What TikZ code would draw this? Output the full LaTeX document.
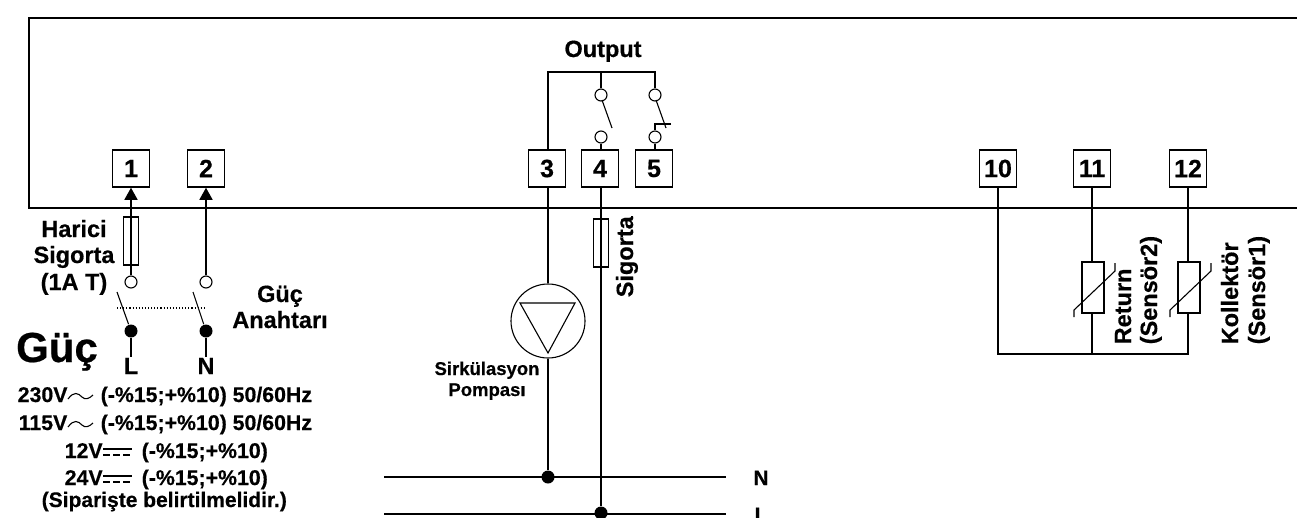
\documentclass[tikz,border=0pt]{standalone}
\usepackage{fontspec}
\setmainfont{Liberation Sans}[BoldFeatures={FakeBold=0.5}]
\usetikzlibrary{arrows.meta}

\begin{document}
\begin{tikzpicture}[x=1pt, y=-1pt, line width=1.5pt,
		lbl/.style={anchor=base, inner sep=0pt, font=\bfseries\fontsize{23.5}{27}\selectfont},
		spec/.style={anchor=base west, inner sep=0pt, font=\bfseries\fontsize{21.3}{25}\selectfont},
		small/.style={anchor=base, inner sep=0pt, font=\bfseries\fontsize{18.5}{22}\selectfont},
		vlbl/.style={lbl, anchor=base west, rotate=90},
		terminal/.style={draw, minimum width=37pt, minimum height=37pt, inner sep=0pt, font=\bfseries\fontsize{25}{27}\selectfont},
		fuse/.style={draw, line width=1.1pt, minimum width=15pt, minimum height=48pt, inner sep=0pt},
		thermistor/.style={draw, line width=1.1pt, minimum width=22pt, minimum height=51pt, inner sep=0pt},
		contact/.style={draw, circle, line width=1.1pt, minimum size=12pt, inner sep=0pt},
		junction/.style={fill, circle, minimum size=13pt, inner sep=0pt},
		thinwire/.style={line width=1.1pt}]
	\clip (0,0) rectangle (1297,517);

	% Housing
	\draw (1297,18) -- (29,18) -- (29,208) -- (1297,208);

	% Terminals
	\foreach \name/\x in {1/131,2/206,3/547,4/600,5/654,10/998,11/1092,12/1188}
	\node[terminal] (t\name) at (\x,168.5) {\name};

	% Supply on the left
	\node[fuse] (fuseA) at (131,241) {};
	\node[contact] (cL) at (131,282) {};
	\node[contact] (cN) at (206,282) {};
	\node[junction] (dL) at (131,331) {};
	\node[junction] (dN) at (206,331) {};
	\coordinate (swL) at (117,292);
	\coordinate (swN) at (193,292);
	\coordinate (gang) at (117,308);
	\coordinate (gangEnd) at (204,308);
	\node[lbl] (lL) at (131,374) {L};
	\node[lbl] (lN) at (206,374) {N};

	\draw[-{Triangle[length=12pt,width=13pt]}] (cL) -- (t1.south);
	\draw[-{Triangle[length=12pt,width=13pt]}] (cN) -- (t2.south);
	\draw[thinwire] (swL) -- (dL);
	\draw[thinwire] (swN) -- (dN);
	\draw[thinwire] (dL) -- (lL.north);
	\draw[thinwire] (dN) -- (lN.north);
	\draw[thinwire, dotted] (gang) -- (gangEnd);

	% Labels of the supply
	\node[lbl] (harici) at (74,237) {Harici};
	\node[lbl] (sigortaA) at (74,263) {Sigorta};
	\node[lbl] (amper) at (74,290) {(1A T)};
	\node[lbl] (gucA) at (280,302) {Güç};
	\node[lbl] (anahtar) at (280,328) {Anahtarı};
	\node[lbl, font=\bfseries\fontsize{42}{46}\selectfont] (guc) at (57,362) {Güç};

	% Voltage list
	\node[spec] (v230) at (17,402) {230V};
	\node[spec] (r230) at (100,402) {(-\%15;+\%10) 50/60Hz};
	\node[spec] (v115) at (18,430) {115V};
	\node[spec] (r115) at (100,430) {(-\%15;+\%10) 50/60Hz};
	\node[spec] (v12) at (64,458) {12V};
	\node[spec] (r12) at (141,458) {(-\%15;+\%10)};
	\node[spec] (v24) at (64,485) {24V};
	\node[spec] (r24) at (141,485) {(-\%15;+\%10)};
	\node[spec, font=\bfseries\fontsize{21}{25}\selectfont] (order) at (41,507) {(Siparişte belirtilmelidir.)};

	% AC and DC signs
	\foreach \y in {399,427}
	\draw[thinwire] (68,\y) .. controls (74,\y-8) and (78,\y-6) .. (82,\y-2) .. controls (85,\y+1) and (89,\y) .. (93,\y-4);
	\foreach \y in {449,476} {
		\draw[thinwire] (103,\y) -- (132,\y);
		\draw[thinwire, dash pattern=on 7pt off 3pt] (103,\y+6) -- (132,\y+6);
	}

	% Output contacts
	\coordinate (busL) at (548,72);
	\coordinate (busM) at (601,72);
	\coordinate (busR) at (655,72);
	\node[lbl] (output) at (603,57) {Output};
	\node[contact] (c4a) at (601,95) {};
	\node[contact] (c4b) at (601,137) {};
	\node[contact] (c5a) at (655,95) {};
	\node[contact] (c5b) at (655,137) {};
	\coordinate (sw4a) at (602,100);
	\coordinate (sw4b) at (612,128);
	\coordinate (sw5a) at (656,100);
	\coordinate (sw5b) at (666,128);
	\coordinate (stopA) at (671,124);
	\coordinate (stopB) at (655,124);

	\draw (t3.north -| busL) -- (busL) -- (busR) -- (c5a);
	\draw[thinwire] (busM) -- (c4a);
	\draw[thinwire] (c4b) -- (t4.north -| c4b);
	\draw[thinwire] (c5b) -- (t5.north -| c5b);
	\draw[thinwire] (sw4a) -- (sw4b);
	\draw[thinwire] (sw5a) -- (sw5b);
	\draw[thinwire] (stopA) -- (stopB) -- (c5b);

	% Pump and mains
	\node[draw, circle, thinwire, minimum size=74pt, inner sep=0pt] (pump) at (548,321) {};
	\coordinate (triA) at (520,303);
	\coordinate (triB) at (575,303);
	\coordinate (triC) at (548,353);
	\draw[thinwire, line join=miter] (triA) -- (triB) -- (triC) -- cycle;
	\node[fuse] (fuseB) at (601,243) {};
	\node[junction] (dNrail) at (548,477) {};
	\node[junction] (dLrail) at (601,513) {};
	\coordinate (railNa) at (384,477);
	\coordinate (railNb) at (726,477);
	\coordinate (railLa) at (384,514);
	\coordinate (railLb) at (726,514);

	\draw (t3.south -| pump) -- (pump.north);
	\draw (pump.south) -- (dNrail);
	\draw (t4.south -| dLrail) -- (dLrail);
	\draw (railNa) -- (railNb);
	\draw (railLa) -- (railLb);

	\node[vlbl] (sigortaB) at (633,298) {Sigorta};
	\node[small] (sirk) at (487,375) {Sirkülasyon};
	\node[small] (pompa) at (487,396) {Pompası};
	\node[lbl, font=\bfseries\fontsize{21}{25}\selectfont] (railN) at (761,485) {N};
	\node[lbl, font=\bfseries\fontsize{21}{25}\selectfont] (railL) at (761,522) {L};

	% Sensors
	\node[thermistor] (rs2) at (1093,287.5) {};
	\node[thermistor] (rs1) at (1189,287.5) {};
	\coordinate (bot10) at (998,354);
	\coordinate (bot11) at (1092,354);
	\coordinate (bot12) at (1188,354);

	\draw (t10.south) -- (bot10) -- (bot12) -- (rs1.south -| bot12);
	\draw (rs1.north -| bot12) -- (t12.south);
	\draw (t11.south) -- (rs2.north -| bot11);
	\draw (rs2.south -| bot11) -- (bot11);

	% Slanted strokes of the sensors
	\foreach \x in {1074,1170}
	\draw[thinwire] (\x,317) -- (\x,310) -- (\x+41,271) -- (\x+41,263);

	\node[vlbl] (lret) at (1131,345) {Return};
	\node[vlbl] (lsen2) at (1157,345) {(Sensör2)};
	\node[vlbl] (lkol) at (1238,345) {Kollektör};
	\node[vlbl] (lsen1) at (1265,345) {(Sensör1)};
\end{tikzpicture}
\end{document}
